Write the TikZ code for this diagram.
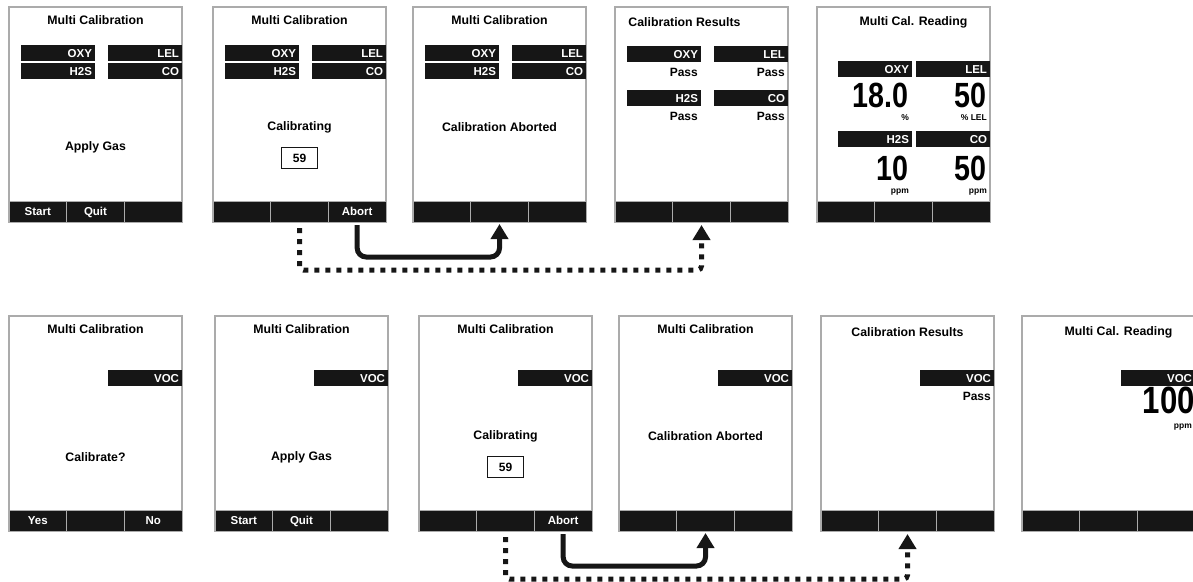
\documentclass[tikz,border=0pt]{standalone}
\usepackage{fontspec}
\setmainfont{Liberation Sans}
\newfontfamily\condfont[FakeStretch=0.82]{Liberation Sans}
\usetikzlibrary{positioning, arrows.meta}
\definecolor{lcdgray}{HTML}{ABABAB}
\definecolor{lcdblack}{HTML}{161616}
\tikzset{
  lcd/.style={draw=lcdgray, line width=1.5pt, minimum width=173pt, minimum height=215pt, anchor=north west, inner sep=0pt, outer sep=0pt},
  scrtitle/.style={font=\bfseries\fontsize{12.3}{14}\selectfont, inner sep=0pt},
  msg/.style={font=\bfseries\fontsize{12.3}{14}\selectfont, inner sep=0pt},
  gasbar/.style={fill=lcdblack, text=white, font=\bfseries\fontsize{11.5}{13}\selectfont, minimum height=16pt, text width=68pt, text height=8.2pt, text depth=0pt, align=right, inner xsep=3pt, inner ysep=0pt, outer sep=0pt},
  passtxt/.style={font=\bfseries\fontsize{12}{14}\selectfont, inner sep=0pt},
  bignum/.style={font=\condfont\bfseries\fontsize{35}{35}\selectfont, inner sep=0pt},
  unittxt/.style={font=\bfseries\fontsize{8.5}{10}\selectfont, inner sep=0pt},
  softkey/.style={fill=lcdblack, draw=lcdgray, line width=1pt, text=white, font=\bfseries\fontsize{11.5}{13}\selectfont, text height=8.2pt, text depth=0pt, minimum width=57.67pt, minimum height=21pt, inner sep=0pt, outer sep=0pt},
  countbox/.style={draw=lcdblack, line width=1.2pt, minimum width=36pt, minimum height=21pt, font=\bfseries\fontsize{12}{14}\selectfont, inner sep=0pt},
  flowarr/.style={draw=lcdblack, line width=5pt, rounded corners=9pt, -{Triangle[width=17pt, length=15pt]}},
  dotarr/.style={flowarr, rounded corners=4pt, dash pattern=on 5pt off 6pt}
}
\begin{document}
\begin{tikzpicture}[x=1pt, y=-1pt]
\useasboundingbox (0,0) rectangle (1193,581);
% screens, top row (four gases) and bottom row (VOC)
\node[lcd] (s1) at (9,7) {};
\node[lcd] (s2) at (213,7) {};
\node[lcd] (s3) at (413,7) {};
\node[lcd] (s4) at (615,7) {};
\node[lcd] (s5) at (817,7) {};
\node[lcd] (b1) at (9,316) {};
\node[lcd] (b2) at (215,316) {};
\node[lcd] (b3) at (419,316) {};
\node[lcd] (b4) at (619,316) {};
\node[lcd] (b5) at (821,316) {};
\node[lcd] (b6) at (1022,316) {};

% titles
\foreach \s in {s1,s2,s3,b1,b2,b3,b4}
  \node[scrtitle] (\s t) at ([yshift=-13pt]\s.north) {Multi Calibration};
\node[scrtitle] (s4t) at ([xshift=-17pt, yshift=-15pt]s4.north) {Calibration Results};
\node[scrtitle] (s5t) at ([xshift=10pt, yshift=-15pt]s5.north) {Multi Cal. Reading};
\node[scrtitle] (b5t) at ([yshift=-16pt]b5.north) {Calibration Results};
\node[scrtitle] (b6t) at ([xshift=10pt, yshift=-16pt]b6.north) {Multi Cal. Reading};

% gas bars
\foreach \s in {s1,s2,s3} {
  \node[gasbar, anchor=north east] (\s lel) at ([yshift=-38pt]\s.north east) {LEL};
  \node[gasbar, left=13pt of \s lel] (\s oxy) {OXY};
  \node[gasbar, below=2pt of \s oxy] (\s h2s) {H2S};
  \node[gasbar, below=2pt of \s lel] (\s co) {CO};
}
\foreach \s in {b1,b2,b3,b4,b5,b6}
  \node[gasbar, anchor=north east] (\s voc) at ([yshift=-54pt]\s.north east) {VOC};

% messages
\node[msg] (s1msg) at ([yshift=-140pt]s1.north) {Apply Gas};
\node[msg] (s2msg) at ([yshift=-120pt]s2.north) {Calibrating};
\node[countbox, below=14pt of s2msg] (s2cnt) {59};
\node[msg] (s3msg) at ([yshift=-120pt]s3.north) {Calibration Aborted};
\node[msg] (b1msg) at ([yshift=-141pt]b1.north) {Calibrate?};
\node[msg] (b2msg) at ([yshift=-141pt]b2.north) {Apply Gas};
\node[msg] (b3msg) at ([yshift=-120pt]b3.north) {Calibrating};
\node[countbox, below=14pt of b3msg] (b3cnt) {59};
\node[msg] (b4msg) at ([yshift=-120pt]b4.north) {Calibration Aborted};

% results
\node[gasbar, anchor=north east] (s4lel) at ([yshift=-39pt]s4.north east) {LEL};
\node[gasbar, left=13pt of s4lel] (s4oxy) {OXY};
\node[passtxt, below left=6pt and 3pt of s4oxy.south east] (s4p1) {Pass};
\node[passtxt, below left=6pt and 3pt of s4lel.south east] (s4p2) {Pass};
\node[gasbar, below=28pt of s4oxy] (s4h2s) {H2S};
\node[gasbar, below=28pt of s4lel] (s4co) {CO};
\node[passtxt, below left=6pt and 3pt of s4h2s.south east] (s4p3) {Pass};
\node[passtxt, below left=6pt and 3pt of s4co.south east] (s4p4) {Pass};
\node[passtxt, below left=6pt and 3pt of b5voc.south east] (b5p1) {Pass};

% readings
\node[gasbar, anchor=north east] (s5lel) at ([yshift=-54pt]s5.north east) {LEL};
\node[gasbar, left=4pt of s5lel] (s5oxy) {OXY};
\node[bignum, below left=6pt and 3pt of s5oxy.south east] (s5v1) {18.0};
\node[unittxt, below left=6pt and 0pt of s5v1.south east] (s5u1) {\%};
\node[bignum, below left=6pt and 3pt of s5lel.south east] (s5v2) {50};
\node[unittxt, below left=6pt and 0pt of s5v2.south east] (s5u2) {\% LEL};
\node[gasbar, below=54pt of s5oxy] (s5h2s) {H2S};
\node[gasbar, below=54pt of s5lel] (s5co) {CO};
\node[bignum, below left=9pt and 3pt of s5h2s.south east] (s5v3) {10};
\node[unittxt, below left=8pt and 0pt of s5v3.south east] (s5u3) {ppm};
\node[bignum, below left=9pt and 3pt of s5co.south east] (s5v4) {50};
\node[unittxt, below left=8pt and 0pt of s5v4.south east] (s5u4) {ppm};
\node[bignum, font=\condfont\bfseries\fontsize{38}{38}\selectfont, below left=1pt and 0pt of b6voc.south east] (b6v1) {100};
\node[unittxt, below left=9pt and 3pt of b6v1.south east] (b6u1) {ppm};

% soft keys
\foreach \s/\a/\b/\c in {s1/Start/Quit/, s2///Abort, s3///, s4///, s5///,
    b1/Yes//No, b2/Start/Quit/, b3///Abort, b4///, b5///, b6///} {
  \node[softkey, anchor=south west] (\s k1) at (\s.south west) {\a};
  \node[softkey, right=0pt of \s k1] (\s k2) {\b};
  \node[softkey, right=0pt of \s k2] (\s k3) {\c};
}

% flow arrows
\draw[flowarr] ([yshift=-3pt]s2k3.south) -- ([yshift=-35pt]s2k3.south) -| ([yshift=-2pt]s3k2.south);
\draw[dotarr] ([yshift=-6pt]s2k2.south) -- ([yshift=-48pt]s2k2.south) -| ([yshift=-3pt]s4k2.south);
\draw[flowarr] ([yshift=-3pt]b3k3.south) -- ([yshift=-35pt]b3k3.south) -| ([yshift=-2pt]b4k2.south);
\draw[dotarr] ([yshift=-6pt]b3k2.south) -- ([yshift=-48pt]b3k2.south) -| ([yshift=-3pt]b5k2.south);
\end{tikzpicture}
\end{document}
